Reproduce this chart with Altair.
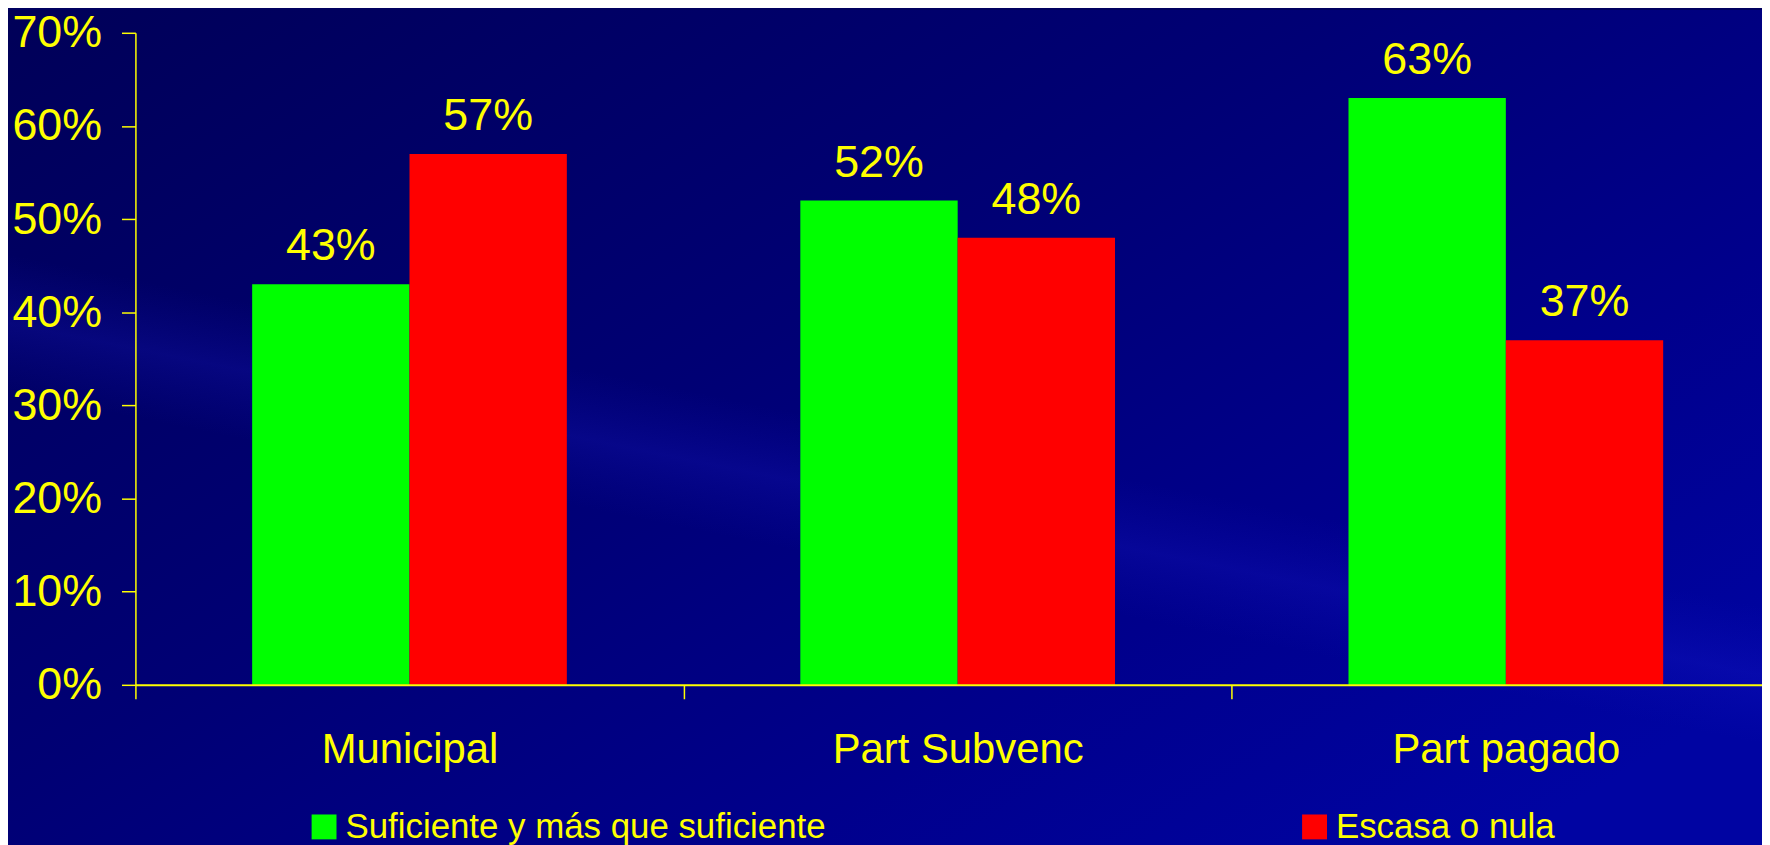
import altair as alt
import pandas as pd

categories = ["Municipal", "Part Subvenc", "Part pagado"]
series = ["Suficiente y más que suficiente", "Escasa o nula"]
suficiente = [0.43, 0.52, 0.63]
escasa = [0.57, 0.48, 0.37]
y_ticks = [0, 0.1, 0.2, 0.3, 0.4, 0.5, 0.6, 0.7]
colors = ["#00ff00", "#ff0000"]

rows = []
for c, a, b in zip(categories, suficiente, escasa):
    rows.append({"cat": c, "series": series[0], "value": a})
    rows.append({"cat": c, "series": series[1], "value": b})
df = pd.DataFrame(rows)

YEL = "#ffff00"
FONT = "Liberation Sans"
W, H = 1634, 655
XR = 1652
PL, PT, PB = 128, 23, 159

bg = alt.Chart(pd.DataFrame({"a": [0]})).mark_rect(
    color=alt.LinearGradient(
        gradient="linear", x1=0, y1=0, x2=1, y2=0.8,
        stops=[
            alt.GradientStop(offset=0, color="#000058"),
            alt.GradientStop(offset=0.45, color="#000074"),
            alt.GradientStop(offset=0.75, color="#00008c"),
            alt.GradientStop(offset=1, color="#0004a2"),
        ],
    )
).encode(
    x=alt.value(-PL), x2=alt.value(W + 10),
    y=alt.value(-PT), y2=alt.value(H + PB + 10),
)

band = alt.Chart(pd.DataFrame({"a": [0]})).mark_rect(
    color=alt.LinearGradient(
        gradient="linear", x1=0.6, y1=0, x2=0.18, y2=1,
        stops=[
            alt.GradientStop(offset=0.0, color="rgba(0,0,40,0.0)"),
            alt.GradientStop(offset=0.46, color="rgba(20,20,200,0.0)"),
            alt.GradientStop(offset=0.53, color="rgba(30,30,210,0.22)"),
            alt.GradientStop(offset=0.60, color="rgba(20,20,200,0.0)"),
            alt.GradientStop(offset=1.0, color="rgba(0,0,40,0.0)"),
        ],
    )
).encode(
    x=alt.value(-PL), x2=alt.value(W + 10),
    y=alt.value(-PT), y2=alt.value(H + PB + 10),
)

x_enc = alt.X(
    "cat:N", sort=categories,
    scale=alt.Scale(paddingInner=0, paddingOuter=0, range=[0, XR]),
    axis=alt.Axis(
        title=None, labelAngle=0, tickBand="extent", zindex=1, labelLimit=0,
        labelFont=FONT, labelFontSize=42, labelColor=YEL,
        tickColor=YEL, tickSize=14, tickWidth=1.5,
        domainColor=YEL, domainWidth=2, labelPadding=31,
    ),
)
xo_enc = alt.XOffset(
    "series:N", sort=series,
    scale=alt.Scale(paddingInner=0, paddingOuter=0.742),
)
y_enc = alt.Y(
    "value:Q",
    scale=alt.Scale(domain=[0, 0.7], nice=False),
    axis=alt.Axis(
        title=None, format=".0%", values=y_ticks, grid=False, zindex=1,
        labelFont=FONT, labelFontSize=45, labelColor=YEL,
        tickColor=YEL, tickSize=14, tickWidth=1.5,
        domainColor=YEL, domainWidth=1.5, labelPadding=20,
    ),
)

bars = alt.Chart(df).mark_bar().encode(
    x=x_enc, xOffset=xo_enc, y=y_enc,
    color=alt.Color(
        "series:N", sort=series,
        scale=alt.Scale(domain=series, range=colors),
        legend=alt.Legend(
            title=None, orient="none", legendX=172, legendY=780,
            direction="horizontal", symbolType="square", symbolSize=625,
            symbolStrokeWidth=0, labelFont=FONT, labelFontSize=35,
            labelColor=YEL, labelLimit=0, labelOffset=4, columnPadding=473,
        ),
    ),
)

labels = alt.Chart(df).mark_text(
    baseline="alphabetic", dy=-24, font=FONT, fontSize=45, color=YEL
).encode(
    x=alt.X("cat:N", sort=categories),
    xOffset=alt.XOffset("series:N", sort=series),
    y="value:Q",
    text=alt.Text("value:Q", format=".0%"),
)

chart = alt.layer(bg, band, bars, labels).properties(
    width=W, height=H,
    autosize=alt.AutoSizeParams(type="none"),
    padding={"left": PL, "top": PT, "right": 0, "bottom": PB},
    background="#000060",
).configure_view(stroke=None)

chart.save("out.html", embed_options={"renderer": "svg", "actions": False})
